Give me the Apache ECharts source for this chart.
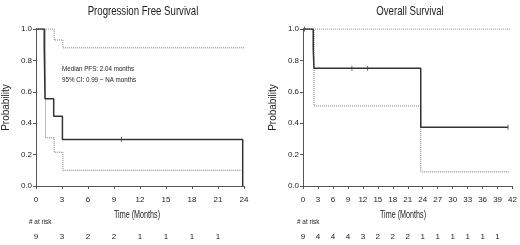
<!DOCTYPE html>
<html>
<head>
<meta charset="utf-8">
<script src="https://cdn.jsdelivr.net/npm/echarts@6/dist/echarts.min.js"></script>
<style>
  html, body { margin: 0; padding: 0; background: #fff; }
  #chart { width: 520px; height: 245px; }
</style>
</head>
<body>
<div id="chart"></div>
<script>
// PFS (left panel)
var pfsTime = [0, 0.95, 0.98, 1.01, 1.04, 2.04, 3.05, 23.85];
var pfsSurv = [1, 0.889, 0.778, 0.667, 0.556, 0.444, 0.296, 0];
var pfsLowTime = [0, 1.1, 2.1, 3.1, 23.7];
var pfsLowSurv = [1, 0.307, 0.215, 0.10, 0.10];
var pfsUpTime = [0, 2.1, 3.1, 24];
var pfsUpSurv = [1, 0.93, 0.88, 0.88];
var pfsCensorTime = [9.85];
var pfsCensorSurv = [0.296];
var pfsAtRisk = ['9', '3', '2', '2', '1', '1', '1', '1', ''];

// OS (right panel)
var osTime = [0, 2.05, 2.2, 23.6, 41.1];
var osSurv = [1, 0.875, 0.75, 0.375, 0.375];
var osLowTime = [0, 2.2, 23.6, 41.5];
var osLowSurv = [1, 0.51, 0.09, 0.09];
var osUpTime = [0, 41.5];
var osUpSurv = [1, 1];
var osCensorTime = [0.3, 9.8, 12.95, 41.1];
var osCensorSurv = [1, 0.75, 0.75, 0.375];
var osAtRisk = ['9', '4', '4', '4', '3', '2', '2', '2', '1', '1', '1', '1', '1', '1', ''];

var FONT = '"Liberation Sans", Arial, sans-serif';
var AXIS_COL = '#555';

function pairs(xs, ys) {
    var out = [];
    for (var i = 0; i < xs.length; i++) out.push([xs[i], ys[i]]);
    return out;
}

function timeAxis(grid, max) {
    return {
        type: 'value', gridIndex: grid, min: 0, max: max, interval: 3,
        axisLine: { lineStyle: { color: AXIS_COL, width: 1 } },
        axisTick: { length: 3, lineStyle: { color: AXIS_COL } },
        axisLabel: { fontFamily: FONT, fontSize: 8, color: '#222', margin: 10 },
        splitLine: { show: false }
    };
}

function riskAxis(grid, max, counts) {
    return {
        type: 'value', gridIndex: grid, min: 0, max: max, interval: 3,
        position: 'bottom', offset: 47,
        axisLine: { show: false }, axisTick: { show: false }, splitLine: { show: false },
        axisLabel: {
            fontFamily: FONT, fontSize: 8, color: '#222', margin: 0,
            formatter: function (v) { return counts[Math.round(v / 3)] || ''; }
        }
    };
}

function probAxis(grid) {
    return {
        type: 'value', gridIndex: grid, min: 0, max: 1, interval: 0.2,
        name: 'Probability', nameLocation: 'middle', nameGap: 25, nameRotate: 90,
        nameTextStyle: { fontFamily: FONT, fontSize: 10, color: '#222' },
        axisLine: { show: true, lineStyle: { color: AXIS_COL, width: 1 } },
        axisTick: { show: true, length: 3, lineStyle: { color: AXIS_COL } },
        axisLabel: { fontFamily: FONT, fontSize: 8, color: '#222', margin: 4,
            formatter: function (v) { return v.toFixed(1); } },
        splitLine: { show: false }
    };
}

function kmLine(idx, data, dotted) {
    return {
        type: 'line', xAxisIndex: idx, yAxisIndex: idx, step: 'end',
        data: data, symbol: 'none', animation: false, z: dotted ? 2 : 3,
        lineStyle: dotted ? { color: '#777', width: 1, type: 'dotted' } : { color: '#333', width: 1.5 }
    };
}

function censor(idx, data) {
    return {
        type: 'scatter', xAxisIndex: idx, yAxisIndex: idx, data: data,
        symbol: 'rect', symbolSize: [1, 5], itemStyle: { color: '#444' }, animation: false, z: 4
    };
}

// narrow text, the original uses a condensed face
function label(txt, x, y, size, align, sx) {
    return {
        type: 'text', x: x, y: y, scaleX: sx,
        style: { text: txt, font: size + 'px ' + FONT, fill: '#222', textAlign: align, textVerticalAlign: 'middle' }
    };
}

var chart = echarts.init(document.getElementById('chart'), null, { renderer: 'canvas' });

chart.setOption({
    backgroundColor: '#fff',
    animation: false,
    grid: [
        { left: 35, top: 29, width: 209, height: 157 },
        { left: 303, top: 29, width: 212, height: 157 }
    ],
    xAxis: [
        timeAxis(0, 24),
        timeAxis(1, 42),
        riskAxis(0, 24, pfsAtRisk),
        riskAxis(1, 42, osAtRisk)
    ],
    yAxis: [probAxis(0), probAxis(1)],
    graphic: [
        label('Progression Free Survival', 143, 11, 13, 'center', 0.74),
        label('Overall Survival', 410, 11, 13, 'center', 0.74),
        label('Median PFS: 2.04 months', 62, 69, 8, 'left', 0.78),
        label('95% CI: 0.99 ~ NA months', 62, 80, 8, 'left', 0.78),
        label('Time (Months)', 137, 215, 10, 'center', 0.72),
        label('Time (Months)', 403, 215, 10, 'center', 0.72),
        label('# at risk', 29, 222, 8, 'left', 0.8),
        label('# at risk', 297, 222, 8, 'left', 0.8)
    ],
    series: [
        kmLine(0, pairs(pfsUpTime, pfsUpSurv), true),
        kmLine(0, pairs(pfsLowTime, pfsLowSurv), true),
        kmLine(0, pairs(pfsTime, pfsSurv), false),
        censor(0, pairs(pfsCensorTime, pfsCensorSurv)),
        kmLine(1, pairs(osUpTime, osUpSurv), true),
        kmLine(1, pairs(osLowTime, osLowSurv), true),
        kmLine(1, pairs(osTime, osSurv), false),
        censor(1, pairs(osCensorTime, osCensorSurv))
    ]
});
</script>
</body>
</html>
